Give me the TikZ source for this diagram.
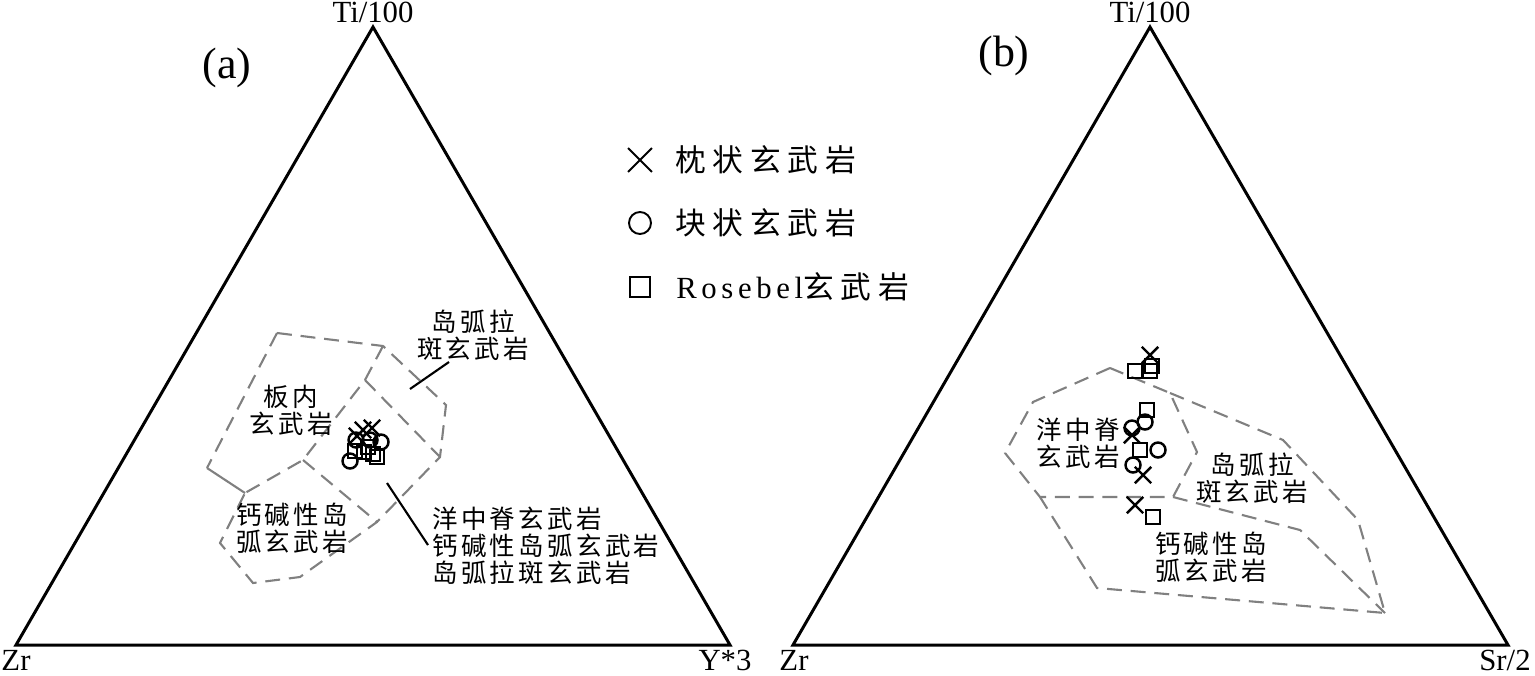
\documentclass[tikz,border=0pt]{standalone}
\usepackage{fontspec}
\setmainfont{Liberation Serif}
\newfontfamily\cjk[LetterSpace=13]{Noto Sans CJK SC}
\newfontfamily\cjkleg[LetterSpace=22]{Noto Sans CJK SC}
\newfontfamily\romleg[LetterSpace=15]{Liberation Serif}
\usetikzlibrary{shapes.misc}

\begin{document}
\begin{tikzpicture}[x=0.02cm, y=-0.02cm,
  tri/.style={line width=1.7pt, line join=miter},
  field/.style={black!50, line width=1.2pt, dash pattern=on 8.5pt off 5pt},
  ptr/.style={line width=1.2pt},
  lab/.style={font=\fontsize{17.5}{20}\selectfont, inner sep=0pt},
  rlab/.style={font=\fontsize{14.5}{15.3}\selectfont\cjk, align=center, inner sep=0pt},
  leg/.style={font=\fontsize{17.5}{20}\selectfont, anchor=west, inner sep=0pt},
  xm/.style={cross out, draw, line width=1.4pt, minimum size=0.28cm, inner sep=0pt},
  om/.style={circle, draw, line width=1.4pt, minimum size=0.3cm, inner sep=0pt},
  sm/.style={rectangle, draw, line width=1.4pt, minimum size=0.28cm, inner sep=0pt}]
\useasboundingbox (0,0) rectangle (1535,676);

% (a) Ti-Zr-Y
\coordinate (za) at (16,645);
\coordinate (ya) at (730,645);
\coordinate (ta) at (373,27);
\draw[tri] (za) -- (ya) -- (ta) -- cycle;
\node[lab] (ti-a) at (373,12) {Ti/100};
\node[lab] (zr-a) at (16,660) {Zr};
\node[lab] (y-a) at (725,660) {Y*3};
\node[font=\fontsize{25}{28}\selectfont] (tag-a) at (227,68) {(a)};

\draw[field] (277,333) -- (383,346) -- (446,405) -- (440,457) -- (377,522) -- (300,577) -- (253,583) -- (220,543) -- (245,493);
\draw[field] (383,346) -- (365,380) -- (303,460) -- (245,493);
\draw[field] (365,380) -- (440,457);
\draw[field] (303,460) -- (377,522);
\draw[field] (277,333) -- (207,468);
\draw[black!50, line width=1.2pt] (207,468) -- (245,493);

\node[rlab] (iat-a) at (473,335) {岛弧拉\\斑玄武岩};
\node[rlab] (wpb-a) at (291,410) {板内\\玄武岩};
\node[rlab] (cab-a) at (292,528) {钙碱性岛\\弧玄武岩};
\node[rlab, align=left, anchor=west] (all-a) at (432,546) {洋中脊玄武岩\\钙碱性岛弧玄武岩\\岛弧拉斑玄武岩};
\coordinate (iat-p) at (410,389);
\coordinate (iat-q) at (449,362);
\coordinate (all-p) at (387,483);
\coordinate (all-q) at (428,545);
\draw[ptr] (iat-p) -- (iat-q);
\draw[ptr] (all-p) -- (all-q);

\foreach \x/\y [count=\i] in {363/430, 372/428, 357/436}
  \node[xm] (xa\i) at (\x,\y) {};
\foreach \x/\y [count=\i] in {350/461, 381/442, 356/440, 370/440}
  \node[om] (oa\i) at (\x,\y) {};
\foreach \x/\y [count=\i] in {355/451, 364/452, 373/454, 368/447, 377/457}
  \node[sm] (sa\i) at (\x,\y) {};

% legend
\node[xm, minimum size=0.44cm, line width=1.1pt] (lg-x) at (640,160) {};
\node[leg] (lg-xt) at (675,160) {\cjkleg 枕状玄武岩};
\node[om, minimum size=0.44cm, line width=1.1pt] (lg-o) at (640,223) {};
\node[leg] (lg-ot) at (675,223) {\cjkleg 块状玄武岩};
\node[sm, minimum size=0.4cm, line width=1.1pt] (lg-s) at (640,287) {};
\node[leg] (lg-st) at (676,287) {\romleg Rosebel\cjkleg 玄武岩};

% (b) Ti-Zr-Sr
\coordinate (zb) at (793,645);
\coordinate (sb) at (1508,645);
\coordinate (tb) at (1150,27);
\draw[tri] (zb) -- (sb) -- (tb) -- cycle;
\node[lab] (ti-b) at (1150,12) {Ti/100};
\node[lab] (zr-b) at (794,660) {Zr};
\node[lab] (sr-b) at (1505,660) {Sr/2};
\node[font=\fontsize{25}{28}\selectfont] (tag-b) at (1004,56) {(b)};

\draw[field] (1110,368) -- (1033,402) -- (1005,453) -- (1040,497) -- (1173,497) -- (1197,452) -- (1170,393) -- cycle;
\draw[field] (1170,393) -- (1283,440) -- (1358,520) -- (1385,613) -- (1097,588) -- (1040,497);
\draw[field] (1173,497) -- (1300,530) -- (1385,613);

\node[rlab] (morb-b) at (1078,443) {洋中脊\\玄武岩};
\node[rlab] (iat-b) at (1252,478) {岛弧拉\\斑玄武岩};
\node[rlab] (cab-b) at (1211,557) {钙碱性岛\\弧玄武岩};

\foreach \x/\y [count=\i] in {1150/355, 1132/435, 1143/475, 1135/505}
  \node[xm] (xb\i) at (\x,\y) {};
\foreach \x/\y [count=\i] in {1145/422, 1132/428, 1158/450, 1133/465}
  \node[om] (ob\i) at (\x,\y) {};
\foreach \x/\y [count=\i] in {1135/371, 1150/371, 1152/366, 1147/410, 1140/450, 1153/517}
  \node[sm] (sb\i) at (\x,\y) {};
\end{tikzpicture}
\end{document}
